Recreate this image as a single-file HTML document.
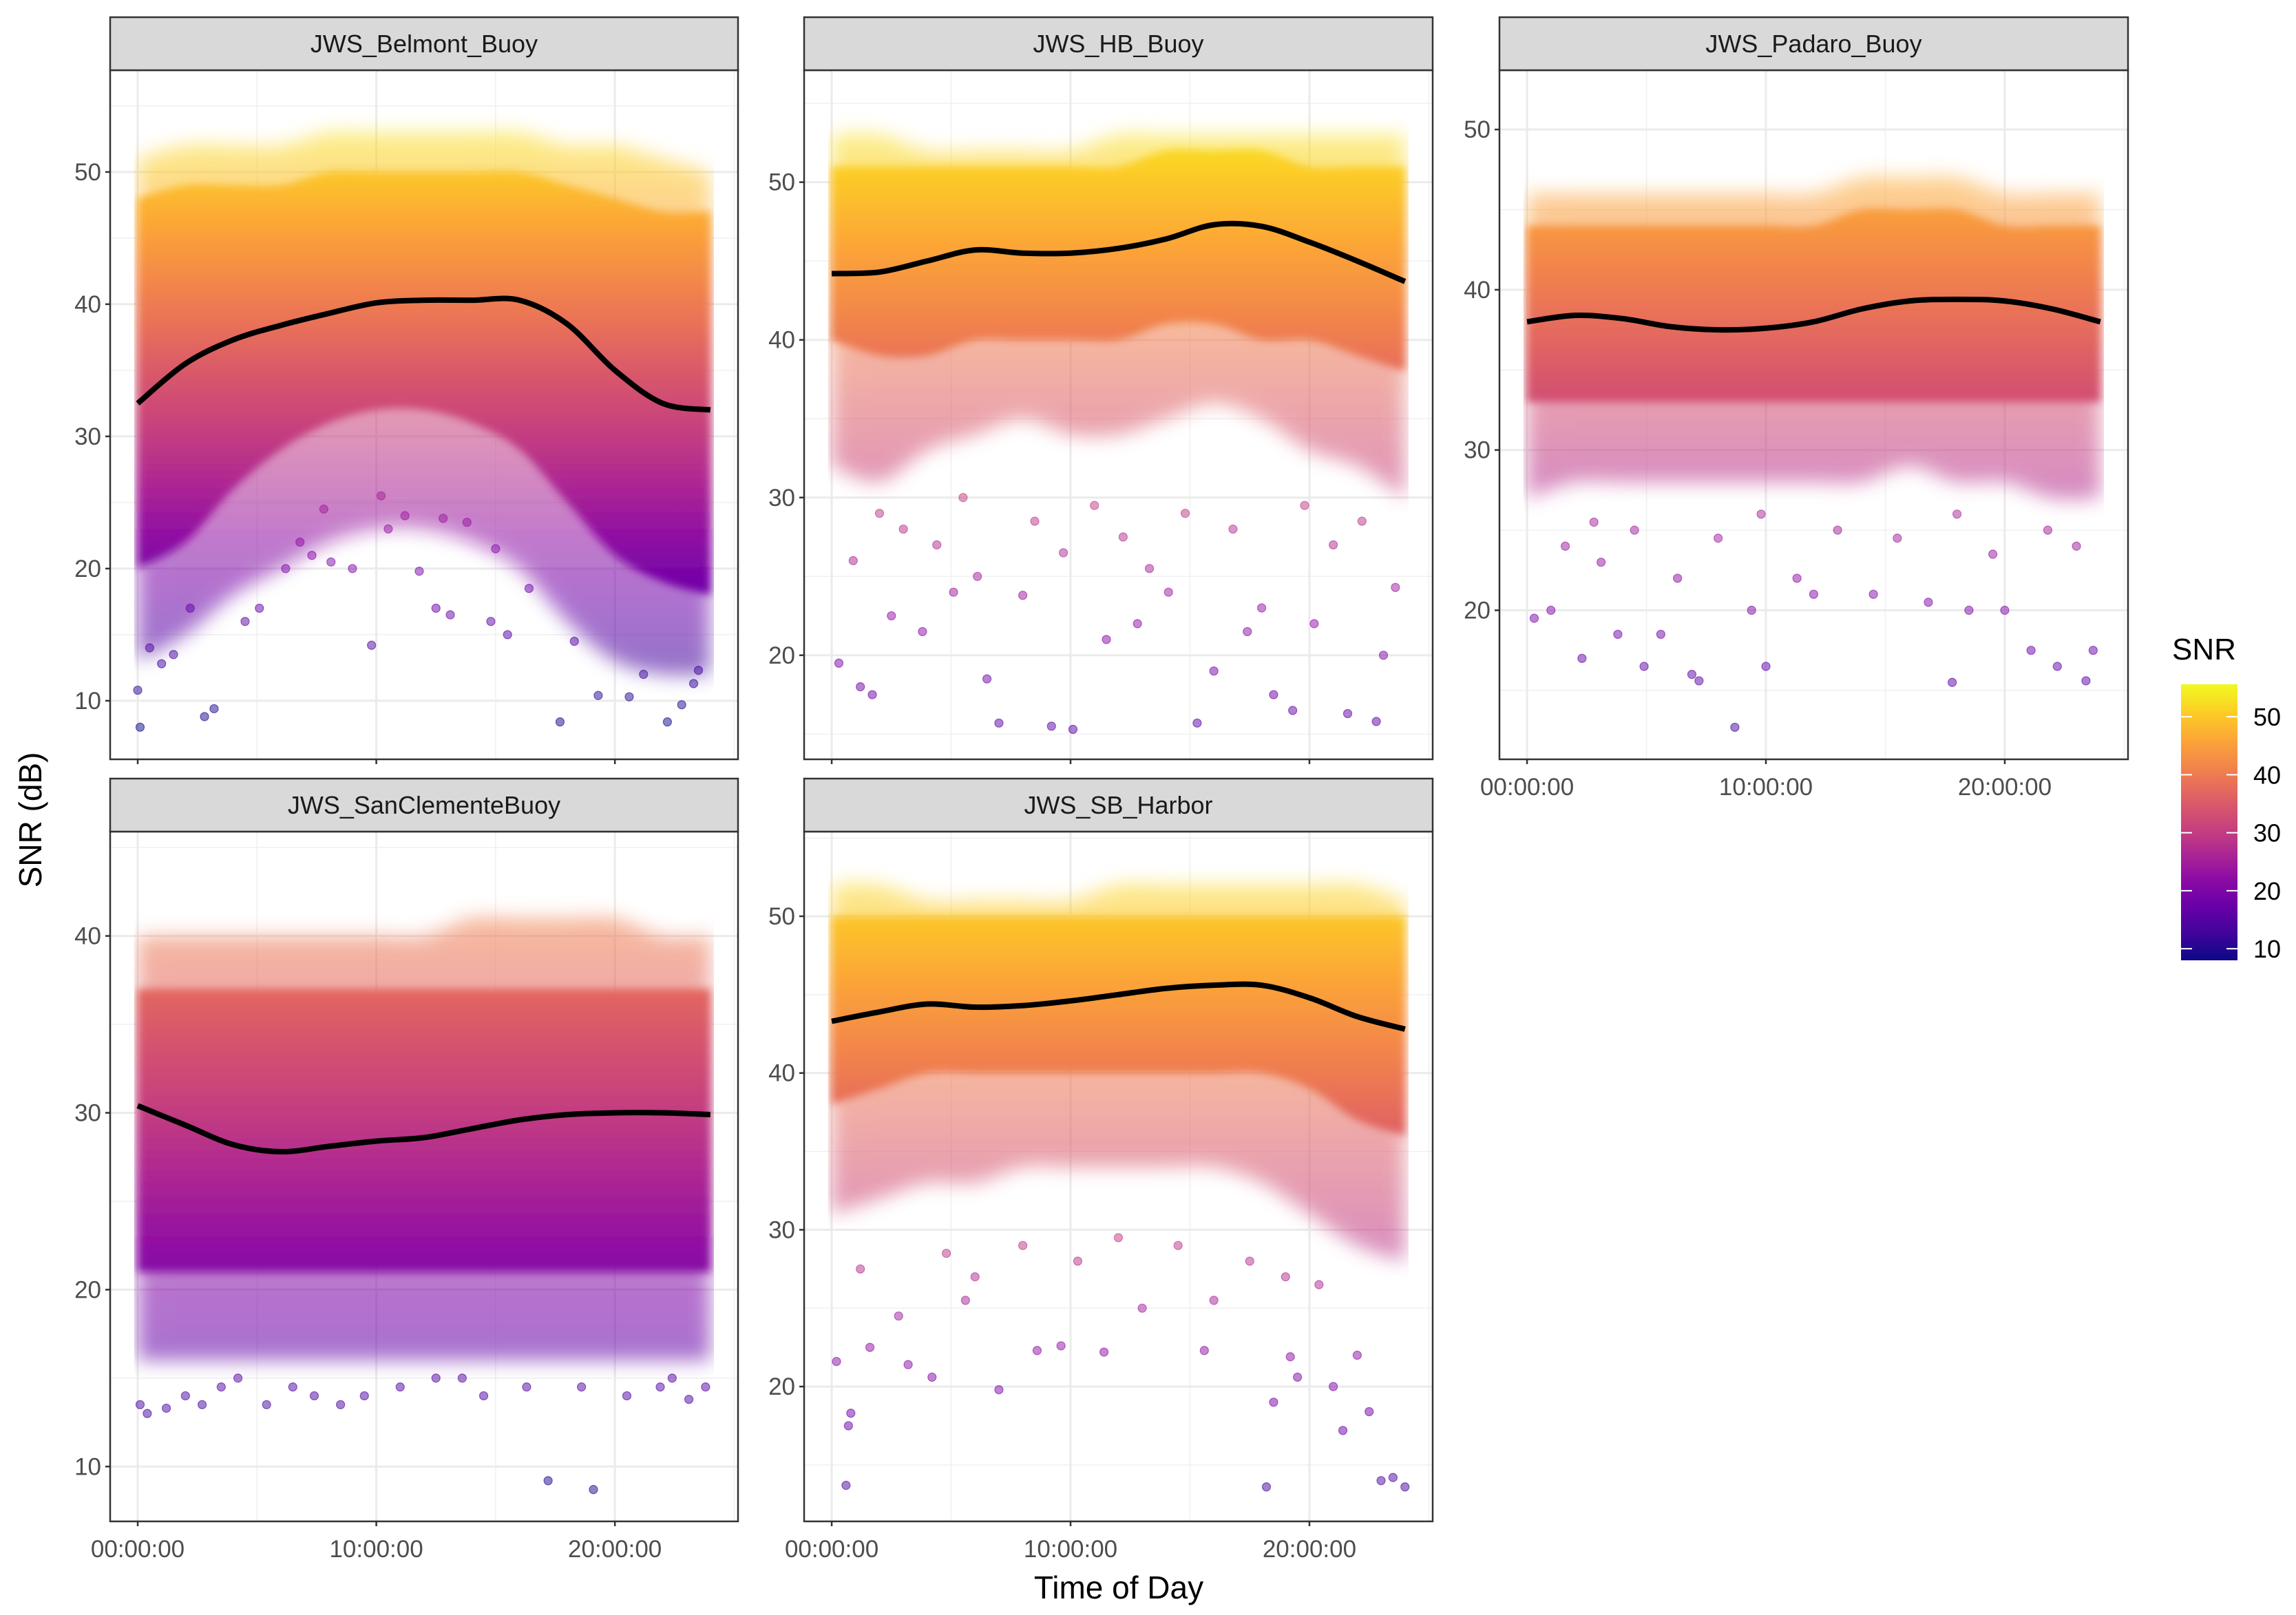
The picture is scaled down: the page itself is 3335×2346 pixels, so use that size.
<!DOCTYPE html>
<html><head><meta charset="utf-8">
<style>
html,body{margin:0;padding:0;background:#fff;}
svg{display:block;font-family:"Liberation Sans",Arial,sans-serif;}
</style></head>
<body>
<svg id="chart" width="3335" height="2346" viewBox="0 0 3335 2346" xmlns="http://www.w3.org/2000/svg">
<defs id="defs">
<filter id="soft" x="-5%" y="-10%" width="110%" height="120%"><feGaussianBlur stdDeviation="14"/></filter>
<filter id="soft2" x="-5%" y="-10%" width="110%" height="120%"><feGaussianBlur stdDeviation="6"/></filter>
</defs>
<g id="panels"></g>
<text x="0" y="0" transform="translate(60,1191) rotate(-90)" text-anchor="middle" font-size="46" fill="#000">SNR (dB)</text>
<text x="1625" y="2322" text-anchor="middle" font-size="46" fill="#000">Time of Day</text>
<g id="legend"></g>
</svg>
<script>
// ---- data ----
const hours = [0,2,4,6,8,10,12,14,16,18,20,22,24];
const panelNames = ["JWS_Belmont_Buoy","JWS_HB_Buoy","JWS_Padaro_Buoy","JWS_SanClementeBuoy","JWS_SB_Harbor"];
const xTickValues = [0,10,20];
const xTickLabels = ["00:00:00","10:00:00","20:00:00"];
const legendTicks = [10,20,30,40,50];

const belmontSmooth = [32.5,35.5,37.3,38.4,39.3,40.1,40.3,40.3,40.3,38.5,35.0,32.5,32.0];
const hbSmooth = [44.2,44.3,45.0,45.7,45.5,45.5,45.8,46.4,47.3,47.2,46.2,45.0,43.7];
const padaroSmooth = [38.0,38.4,38.2,37.7,37.5,37.6,38.0,38.8,39.3,39.4,39.3,38.8,38.0];
const sanClementeSmooth = [30.4,29.3,28.2,27.8,28.1,28.4,28.6,29.1,29.6,29.9,30.0,30.0,29.9];
const sbHarborSmooth = [43.3,43.9,44.4,44.2,44.3,44.6,45.0,45.4,45.6,45.6,44.8,43.6,42.8];

const belmontCoreTop = [48,49,49,49,50,50,50,50,50,49,48,47,47];
const belmontCoreBottom = [20,22,26,29,31,32,32,31,29,25,21,19,18];
const belmontOuterTop = [51,52,52,52,53,53,53,53,53,52,52,51,50];
const belmontOuterBottom = [13,15,18,20,22,23,23,22,20,16,13,12,12];

const hbCoreTop = [51,51,51,51,51,51,51,52,52,52,51,51,51];
const hbCoreBottom = [40,39,39,40,40,40,40,41,41,40,40,39,38];
const hbOuterTop = [53,53,52,52,52,52,53,53,53,53,53,53,53];
const hbOuterBottom = [32,31,33,34,35,34,34,35,36,35,33,32,30];

const padaroCoreTop = [44,44,44,44,44,44,44,45,45,45,44,44,44];
const padaroCoreBottom = [33,33,33,33,33,33,33,33,33,33,33,33,33];
const padaroOuterTop = [46,46,46,46,46,46,46,47,47,47,46,46,46];
const padaroOuterBottom = [27,28,28,28,28,28,28,28,29,28,28,27,27];

const sanClementeCoreTop = [37,37,37,37,37,37,37,37,37,37,37,37,37];
const sanClementeCoreBottom = [21,21,21,21,21,21,21,21,21,21,21,21,21];
const sanClementeOuterTop = [40,40,40,40,40,40,40,41,41,41,41,40,40];
const sanClementeOuterBottom = [16,16,16,16,16,16,16,16,16,16,16,16,16];

const sbHarborCoreTop = [50,50,50,50,50,50,50,50,50,50,50,50,50];
const sbHarborCoreBottom = [38,39,40,40,40,40,40,40,40,40,39,37,36];
const sbHarborOuterTop = [52,52,51,51,51,51,52,52,52,52,52,52,51];
const sbHarborOuterBottom = [31,32,33,33,34,34,34,34,34,33,31,29,28];

const belmontOutlierHours = [0.1,2.8,3.2,0,9.8,17.7,19.3,22.2,23.3,0.5,1.5,4.5,6.2,7.3,12.5,13.1,15.5,16.4,18.3,21.2,22.8,23.5,8.1,10.5,11.2,14.8,5.1,20.6,1.0,2.2,6.8,9.0,11.8,13.8,15.0,7.8,10.2,12.8];
const belmontOutlierValues = [8,8.8,9.4,10.8,14.2,8.4,10.4,8.4,11.3,14,13.5,16,20,21,17,16.5,15,18.5,14.5,12,9.7,12.3,20.5,23,24,16,17,10.3,12.8,17,22,20,19.8,23.5,21.5,24.5,25.5,23.8];
const hbOutlierHours = [0.3,1.2,1.7,2.5,3.8,5.1,6.5,7.0,8.0,9.2,10.1,11.5,12.8,14.1,15.3,16.0,17.4,18.5,19.3,20.2,21.6,22.8,23.6,0.9,4.4,6.1,9.7,13.3,18.0,23.1,2.0,3.0,5.5,8.5,11.0,12.2,14.8,16.8,19.8,21.0,22.2];
const hbOutlierValues = [19.5,18,17.5,22.5,21.5,24,18.5,15.7,23.8,15.5,15.3,21,22,24,15.7,19,21.5,17.5,16.5,22,16.3,15.8,24.3,26,27,25,26.5,25.5,23,20,29,28,30,28.5,29.5,27.5,29,28,29.5,27,28.5];
const padaroOutlierHours = [0.3,1.0,2.3,3.8,4.9,5.6,6.9,7.2,8.7,9.4,10.0,12,16.8,17.8,18.5,20,21.1,22.2,23.4,23.7,1.6,3.1,6.3,11.3,14.5,19.5,2.8,4.5,8.0,9.8,13.0,15.5,18.0,21.8,23.0];
const padaroOutlierValues = [19.5,20,17,18.5,16.5,18.5,16,15.6,12.7,20,16.5,21,20.5,15.5,20,20,17.5,16.5,15.6,17.5,24,23,22,22,21,23.5,25.5,25,24.5,26,25,24.5,26,25,24];
const sanClementeOutlierHours = [0.1,0.4,1.2,2.0,2.7,3.5,5.4,6.5,7.4,8.5,9.5,11.0,12.5,14.5,16.3,17.2,18.6,19.1,20.5,21.9,23.1,23.8,4.2,13.6,22.4];
const sanClementeOutlierValues = [13.5,13,13.3,14,13.5,14.5,13.5,14.5,14,13.5,14,14.5,15,14,14.5,9.2,14.5,8.7,14,14.5,13.8,14.5,15,15,15];
const sbHarborOutlierHours = [0.6,0.7,0.8,0.2,1.6,3.2,4.2,7.0,8.6,9.6,11.4,15.6,18.2,19.2,19.5,18.5,21.4,22.5,23.0,24.0,21.0,22.0,23.5,2.8,5.6,13.0,16.0,10.3,6.0,20.4,1.2,4.8,8.0,12.0,14.5,17.5,19.0];
const sbHarborOutlierValues = [13.7,17.5,18.3,21.6,22.5,21.4,20.6,19.8,22.3,22.6,22.2,22.3,13.6,21.9,20.6,19.0,17.2,18.4,14.0,13.6,20.0,22.0,14.2,24.5,25.5,25.0,25.5,28,27,26.5,27.5,28.5,29,29.5,29,28,27];

// ---- layout ----
const panels = [
  {name:panelNames[0], x0:160, x1:1072, y0:102, y1:1103, ymin:5.57, ymax:57.7, yticks:[10,20,30,40,50], smooth:belmontSmooth, ct:belmontCoreTop, cb:belmontCoreBottom, ot:belmontOuterTop, ob:belmontOuterBottom, oh:belmontOutlierHours, ov:belmontOutlierValues, xlabels:false},
  {name:panelNames[1], x0:1168, x1:2081, y0:102, y1:1103, ymin:13.4, ymax:57.1, yticks:[20,30,40,50], smooth:hbSmooth, ct:hbCoreTop, cb:hbCoreBottom, ot:hbOuterTop, ob:hbOuterBottom, oh:hbOutlierHours, ov:hbOutlierValues, xlabels:false},
  {name:panelNames[2], x0:2178, x1:3091, y0:102, y1:1103, ymin:10.7, ymax:53.7, yticks:[20,30,40,50], smooth:padaroSmooth, ct:padaroCoreTop, cb:padaroCoreBottom, ot:padaroOuterTop, ob:padaroOuterBottom, oh:padaroOutlierHours, ov:padaroOutlierValues, xlabels:true},
  {name:panelNames[3], x0:160, x1:1072, y0:1208, y1:2210, ymin:6.9, ymax:45.9, yticks:[10,20,30,40], smooth:sanClementeSmooth, ct:sanClementeCoreTop, cb:sanClementeCoreBottom, ot:sanClementeOuterTop, ob:sanClementeOuterBottom, oh:sanClementeOutlierHours, ov:sanClementeOutlierValues, xlabels:true},
  {name:panelNames[4], x0:1168, x1:2081, y0:1208, y1:2210, ymin:11.4, ymax:55.4, yticks:[20,30,40,50], smooth:sbHarborSmooth, ct:sbHarborCoreTop, cb:sbHarborCoreBottom, ot:sbHarborOuterTop, ob:sbHarborOuterBottom, oh:sbHarborOutlierHours, ov:sbHarborOutlierValues, xlabels:true}
];
const XMIN=-1.155, XMAX=25.16;
const CMIN=8, CMAX=55.6;
const plasma=["#0d0887","#41049d","#6a00a8","#8f0da4","#b12a90","#cc4778","#e16462","#f2844b","#fca636","#fcce25","#f0f921"];
function hex2rgb(h){return [1,3,5].map(i=>parseInt(h.substr(i,2),16));}
function color(v){let t=(v-CMIN)/(CMAX-CMIN);t=Math.max(0,Math.min(1,t));const s=t*10,i=Math.min(9,Math.floor(s)),f=s-i;const a=hex2rgb(plasma[i]),b=hex2rgb(plasma[i+1]);return "rgb("+a.map((c,k)=>Math.round(c+(b[k]-c)*f)).join(",")+")";}
const NS="http://www.w3.org/2000/svg";
function mk(tag,attrs,parent){const e=document.createElementNS(NS,tag);for(const k in attrs)e.setAttribute(k,attrs[k]);if(parent)parent.appendChild(e);return e;}
const defs=document.getElementById('defs');
const root=document.getElementById('panels');

function smoothPath(pts){let d="M"+pts[0][0]+","+pts[0][1];for(let i=0;i<pts.length-1;i++){const p0=pts[Math.max(0,i-1)],p1=pts[i],p2=pts[i+1],p3=pts[Math.min(pts.length-1,i+2)];const c1=[p1[0]+(p2[0]-p0[0])/6,p1[1]+(p2[1]-p0[1])/6],c2=[p2[0]-(p3[0]-p1[0])/6,p2[1]-(p3[1]-p1[1])/6];d+=" C"+c1+" "+c2+" "+p2;}return d;}

panels.forEach((p,pi)=>{
  const xs=h=>p.x0+(h-XMIN)/(XMAX-XMIN)*(p.x1-p.x0);
  const ys=v=>p.y1-(v-p.ymin)/(p.ymax-p.ymin)*(p.y1-p.y0);
  const g=mk('g',{},root);
  
  
  const clipId='clip'+pi;
  const cp=mk('clipPath',{id:clipId},defs);mk('rect',{x:p.x0,y:p.y0,width:p.x1-p.x0,height:p.y1-p.y0},cp);
  const clipId2='clipx'+pi;
  const cp2=mk('clipPath',{id:clipId2},defs);mk('rect',{x:xs(-0.15),y:p.y0,width:xs(24.15)-xs(-0.15),height:p.y1-p.y0},cp2);
  const gid='grad'+pi;
  const lg=mk('linearGradient',{id:gid,gradientUnits:'userSpaceOnUse',x1:0,x2:0,y1:ys(CMIN),y2:ys(CMAX)},defs);
  for(let i=0;i<=20;i++){const v=CMIN+(CMAX-CMIN)*i/20;mk('stop',{offset:i/20,'stop-color':color(v)},lg);}
  mk('rect',{x:p.x0,y:p.y0,width:p.x1-p.x0,height:p.y1-p.y0,fill:'#fff'},g);
  const grid=mk('g',{},g);
  
  
  [5,15,25].forEach(h=>{if(h<XMAX)mk('line',{x1:xs(h),x2:xs(h),y1:p.y0,y2:p.y1,stroke:'#f0f0f0','stroke-width':1.5},grid);});
  p.yticks.forEach(v=>{const m=v-5;if(m>p.ymin)mk('line',{x1:p.x0,x2:p.x1,y1:ys(m),y2:ys(m),stroke:'#f0f0f0','stroke-width':1.5},grid);});
  const last=p.yticks[p.yticks.length-1]+5;if(last<p.ymax)mk('line',{x1:p.x0,x2:p.x1,y1:ys(last),y2:ys(last),stroke:'#f0f0f0','stroke-width':1.5},grid);
  xTickValues.forEach(h=>mk('line',{x1:xs(h),x2:xs(h),y1:p.y0,y2:p.y1,stroke:'#ebebeb','stroke-width':3},grid));
  p.yticks.forEach(v=>mk('line',{x1:p.x0,x2:p.x1,y1:ys(v),y2:ys(v),stroke:'#ebebeb','stroke-width':3},grid));
  const dg=mk('g',{'clip-path':'url(#'+clipId+')'},g);
  const bandG=mk('g',{'clip-path':'url(#'+clipId2+')'},dg);
  const band=(top,bot,op,nm,filt)=>{
    const tp=hours.map((h,i)=>[xs(h),ys(top[i])]),bp=hours.map((h,i)=>[xs(h),ys(bot[i])]).reverse();
    const d=smoothPath(tp)+" L"+bp[0]+smoothPath(bp).slice(1+String(bp[0]).length)+" Z";
    const e=mk('path',{d:d,fill:'url(#'+gid+')',opacity:op},bandG);
    if(filt)e.setAttribute('filter','url(#'+filt+')');
    
    
  };
  band(p.ot,p.ob,0.55,'point-cloud-outer','soft');
  band(p.ct,p.cb,1,'point-cloud-core','soft2');
  p.oh.forEach((h,i)=>{
    const c=mk('circle',{cx:xs(h),cy:ys(p.ov[i]),r:6,fill:color(p.ov[i]),'fill-opacity':0.5,stroke:color(p.ov[i]),'stroke-opacity':0.6,'stroke-width':1.2},dg);
    
    
  });
  const sp=mk('path',{d:smoothPath(hours.map((h,i)=>[xs(h),ys(p.smooth[i])])),fill:'none',stroke:'#000','stroke-width':8,'stroke-linecap':'butt'},dg);
  
  
  mk('rect',{x:p.x0,y:p.y0,width:p.x1-p.x0,height:p.y1-p.y0,fill:'none',stroke:'#333','stroke-width':2.5},g);
  const sy=p.y0-77;
  const st=mk('rect',{x:p.x0,y:sy,width:p.x1-p.x0,height:77,fill:'#d9d9d9',stroke:'#333','stroke-width':2.5},g);
  
  
  const tt=mk('text',{x:(p.x0+p.x1)/2,y:sy+51,'text-anchor':'middle','font-size':36,fill:'#1a1a1a'},g);
  tt.textContent=p.name;
  
  
  p.yticks.forEach(v=>{
    mk('line',{x1:p.x0-7,x2:p.x0,y1:ys(v),y2:ys(v),stroke:'#333','stroke-width':2.5},g);
    const t=mk('text',{x:p.x0-13,y:ys(v)+12,'text-anchor':'end','font-size':35,fill:'#4d4d4d'},g);
    t.textContent=v;
    
    
  });
  xTickValues.forEach((h,i)=>{
    mk('line',{x1:xs(h),x2:xs(h),y1:p.y1,y2:p.y1+7,stroke:'#333','stroke-width':2.5},g);
    if(p.xlabels){
      const t=mk('text',{x:xs(h),y:p.y1+52,'text-anchor':'middle','font-size':35,fill:'#4d4d4d'},g);
      t.textContent=xTickLabels[i];
      
      
    }
  });
});

const lgd=document.getElementById('legend');
const LX=3168,LW=82,LY0=994,LY1=1395;
const ly=v=>LY1-(v-CMIN)/(CMAX-CMIN)*(LY1-LY0);
const lgr=mk('linearGradient',{id:'lgrad',gradientUnits:'userSpaceOnUse',x1:0,x2:0,y1:LY1,y2:LY0},defs);
for(let i=0;i<=20;i++){mk('stop',{offset:i/20,'stop-color':color(CMIN+(CMAX-CMIN)*i/20)},lgr);}
const lt=mk('text',{x:3155,y:958,'font-size':44,fill:'#000'},lgd);
lt.textContent='SNR';


const bar=mk('rect',{x:LX,y:LY0,width:LW,height:LY1-LY0,fill:'url(#lgrad)'},lgd);


legendTicks.forEach(v=>{
  mk('line',{x1:LX,x2:LX+16,y1:ly(v),y2:ly(v),stroke:'#fff','stroke-width':2},lgd);
  mk('line',{x1:LX+LW-16,x2:LX+LW,y1:ly(v),y2:ly(v),stroke:'#fff','stroke-width':2},lgd);
  const t=mk('text',{x:3273,y:ly(v)+13,'font-size':36,fill:'#000'},lgd);
  t.textContent=v;
  
  
});
</script>
</body></html>
